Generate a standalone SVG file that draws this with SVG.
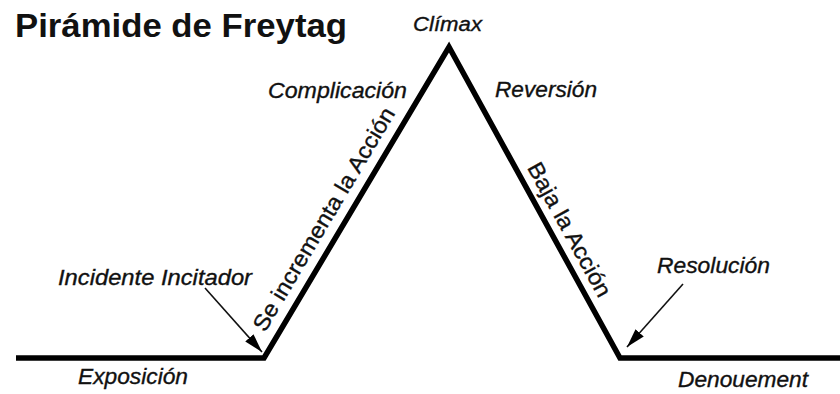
<svg xmlns="http://www.w3.org/2000/svg" width="840" height="394" viewBox="0 0 840 394">
  <defs>
    <style>
      .lbl { font-family: "Liberation Sans", Arial, sans-serif; font-style: italic; font-size: 22.5px; fill: #111; stroke: #111; stroke-width: 0.35; }
      .title { font-family: "Liberation Sans", Arial, sans-serif; font-weight: bold; font-size: 34px; fill: #111; }
      .plot { fill: none; stroke: #000; stroke-width: 5.5; stroke-linejoin: miter; stroke-miterlimit: 10; }
      .arrow { fill: none; stroke: #111; stroke-width: 1.6; }
    </style>
    <marker id="head" markerUnits="userSpaceOnUse" markerWidth="20" markerHeight="12" refX="19" refY="6" orient="auto">
      <path d="M0,0.5 L19,6 L0,11.5 z" fill="#000"/>
    </marker>
  </defs>
  <rect width="840" height="394" fill="#fff"/>

  <g id="title">
    <text class="title" x="15" y="37" textLength="332" lengthAdjust="spacingAndGlyphs">Pirámide de Freytag</text>
  </g>

  <g id="connectors">
    <polyline id="pyramid" class="plot" points="16,358 264,358 449,47 620,358 842,358"/>
    <line class="arrow" x1="205" y1="288" x2="262" y2="352" marker-end="url(#head)"/>
    <line class="arrow" x1="683" y1="284" x2="627" y2="347" marker-end="url(#head)"/>
  </g>

  <g id="climax">
    <text class="lbl" x="413" y="31" textLength="69" lengthAdjust="spacingAndGlyphs" style="font-size:20px">Clímax</text>
  </g>
  <g id="complicacion">
    <text class="lbl" x="268" y="98" textLength="139" lengthAdjust="spacingAndGlyphs">Complicación</text>
  </g>
  <g id="reversion">
    <text class="lbl" x="495" y="97" textLength="102" lengthAdjust="spacingAndGlyphs">Reversión</text>
  </g>
  <g id="incidente">
    <text class="lbl" x="58" y="285" textLength="194" lengthAdjust="spacingAndGlyphs">Incidente Incitador</text>
  </g>
  <g id="resolucion">
    <text class="lbl" x="657" y="273" textLength="113" lengthAdjust="spacingAndGlyphs">Resolución</text>
  </g>
  <g id="exposicion">
    <text class="lbl" x="78" y="384" textLength="110" lengthAdjust="spacingAndGlyphs">Exposición</text>
  </g>
  <g id="denouement">
    <text class="lbl" x="678" y="387" textLength="130" lengthAdjust="spacingAndGlyphs">Denouement</text>
  </g>
  <g id="sube">
    <text class="lbl" transform="translate(264.9,333) rotate(-59.25)" x="0" y="0" style="font-style:normal" textLength="256" lengthAdjust="spacingAndGlyphs">Se incrementa la Acción</text>
  </g>
  <g id="baja">
    <text class="lbl" transform="translate(526.7,167.5) rotate(61.2)" x="0" y="0" style="font-style:normal" textLength="150" lengthAdjust="spacingAndGlyphs">Baja la Acción</text>
  </g>
</svg>
